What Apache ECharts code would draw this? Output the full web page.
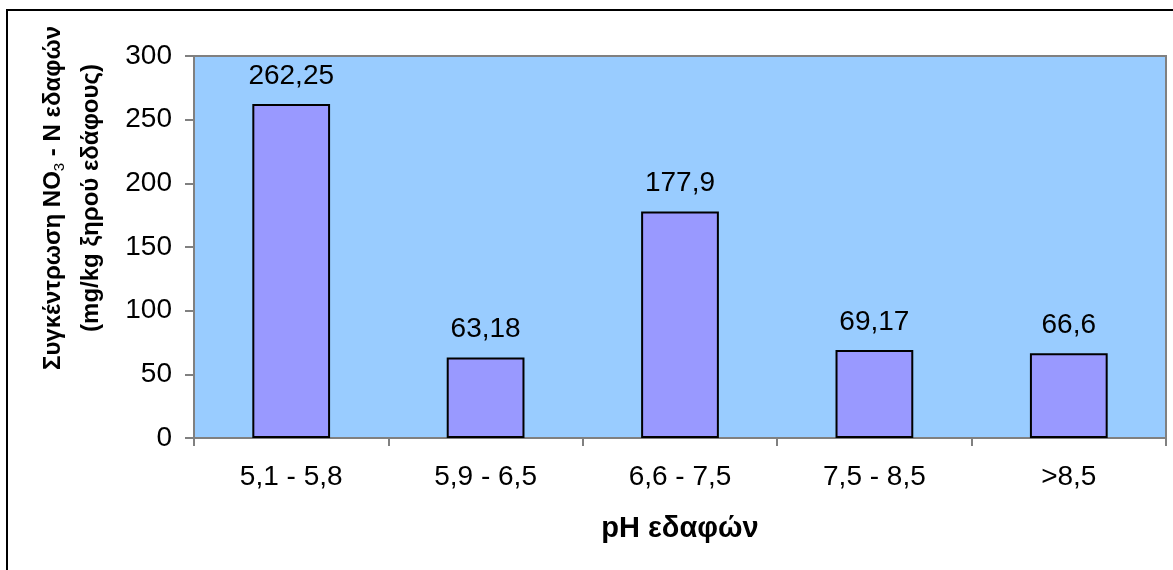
<!DOCTYPE html>
<html>
<head>
<meta charset="utf-8">
<script src="https://cdn.jsdelivr.net/npm/echarts@6/dist/echarts.min.js"></script>
<style>
  html, body { margin: 0; padding: 0; background: #fff; }
  #chart { width: 1173px; height: 570px; }
</style>
</head>
<body>
<div id="chart"></div>
<script>
// κατηγορίες pH και τιμές NO3-N
var categories = ['5,1 - 5,8', '5,9 - 6,5', '6,6 - 7,5', '7,5 - 8,5', '>8,5'];
var values = [262.25, 63.18, 177.9, 69.17, 66.6];
var yTicks = { min: 0, max: 300, interval: 50 };

var FONT = 'Liberation Sans, Arial, sans-serif';

var chart = echarts.init(document.getElementById('chart'));
var option = {
    animation: false,
    grid: {
        left: 194,
        top: 56,
        right: 7,
        bottom: 132,
        show: true,
        backgroundColor: '#99CCFF',
        borderColor: '#808080',
        borderWidth: 2
    },
    xAxis: {
        type: 'category',
        data: categories,
        name: 'pH εδαφών',
        nameLocation: 'middle',
        nameGap: 76,
        nameTextStyle: { fontFamily: FONT, fontSize: 29, fontWeight: 'bold', color: '#000' },
        axisLine: { lineStyle: { color: '#808080', width: 2 } },
        axisTick: { show: true, length: 8, lineStyle: { color: '#808080', width: 2 } },
        axisLabel: { fontFamily: FONT, fontSize: 28, color: '#000', margin: 25 }
    },
    yAxis: {
        type: 'value',
        min: yTicks.min,
        max: yTicks.max,
        interval: yTicks.interval,
        axisLine: { show: true, lineStyle: { color: '#808080', width: 2 } },
        axisTick: { show: true, length: 9, lineStyle: { color: '#808080', width: 2 } },
        axisLabel: { fontFamily: FONT, fontSize: 28, color: '#000', margin: 22 },
        splitLine: { show: false }
    },
    graphic: [
        {
            // εξωτερικό πλαίσιο
            type: 'rect',
            shape: { x: 7, y: 10, width: 1200, height: 600 },
            style: { fill: 'none', stroke: '#000', lineWidth: 2 },
            silent: true
        },
        {
            type: 'text',
            x: 72,
            y: 198,
            rotation: Math.PI / 2,
            style: {
                text: 'Συγκέντρωση NO{sub|3} - N εδαφών\n(mg/kg ξηρού εδάφους)',
                fontFamily: FONT,
                fontSize: 24,
                fontWeight: 'bold',
                lineHeight: 38,
                fill: '#000',
                align: 'center',
                verticalAlign: 'middle',
                rich: {
                    sub: {
                        fontFamily: FONT,
                        fontSize: 15,
                        fontWeight: 'normal',
                        fill: '#000',
                        padding: [13, 0, 0, 0]
                    }
                }
            }
        }
    ],
    series: [
        {
            type: 'bar',
            data: values,
            barCategoryGap: '60%',
            itemStyle: { color: '#9999FF', borderColor: '#000', borderWidth: 2 },
            label: {
                show: true,
                position: 'top',
                distance: 14,
                fontFamily: FONT,
                fontSize: 28,
                color: '#000',
                formatter: function (p) { return String(p.value).replace('.', ','); }
            }
        }
    ]
};
chart.setOption(option);
</script>
</body>
</html>
